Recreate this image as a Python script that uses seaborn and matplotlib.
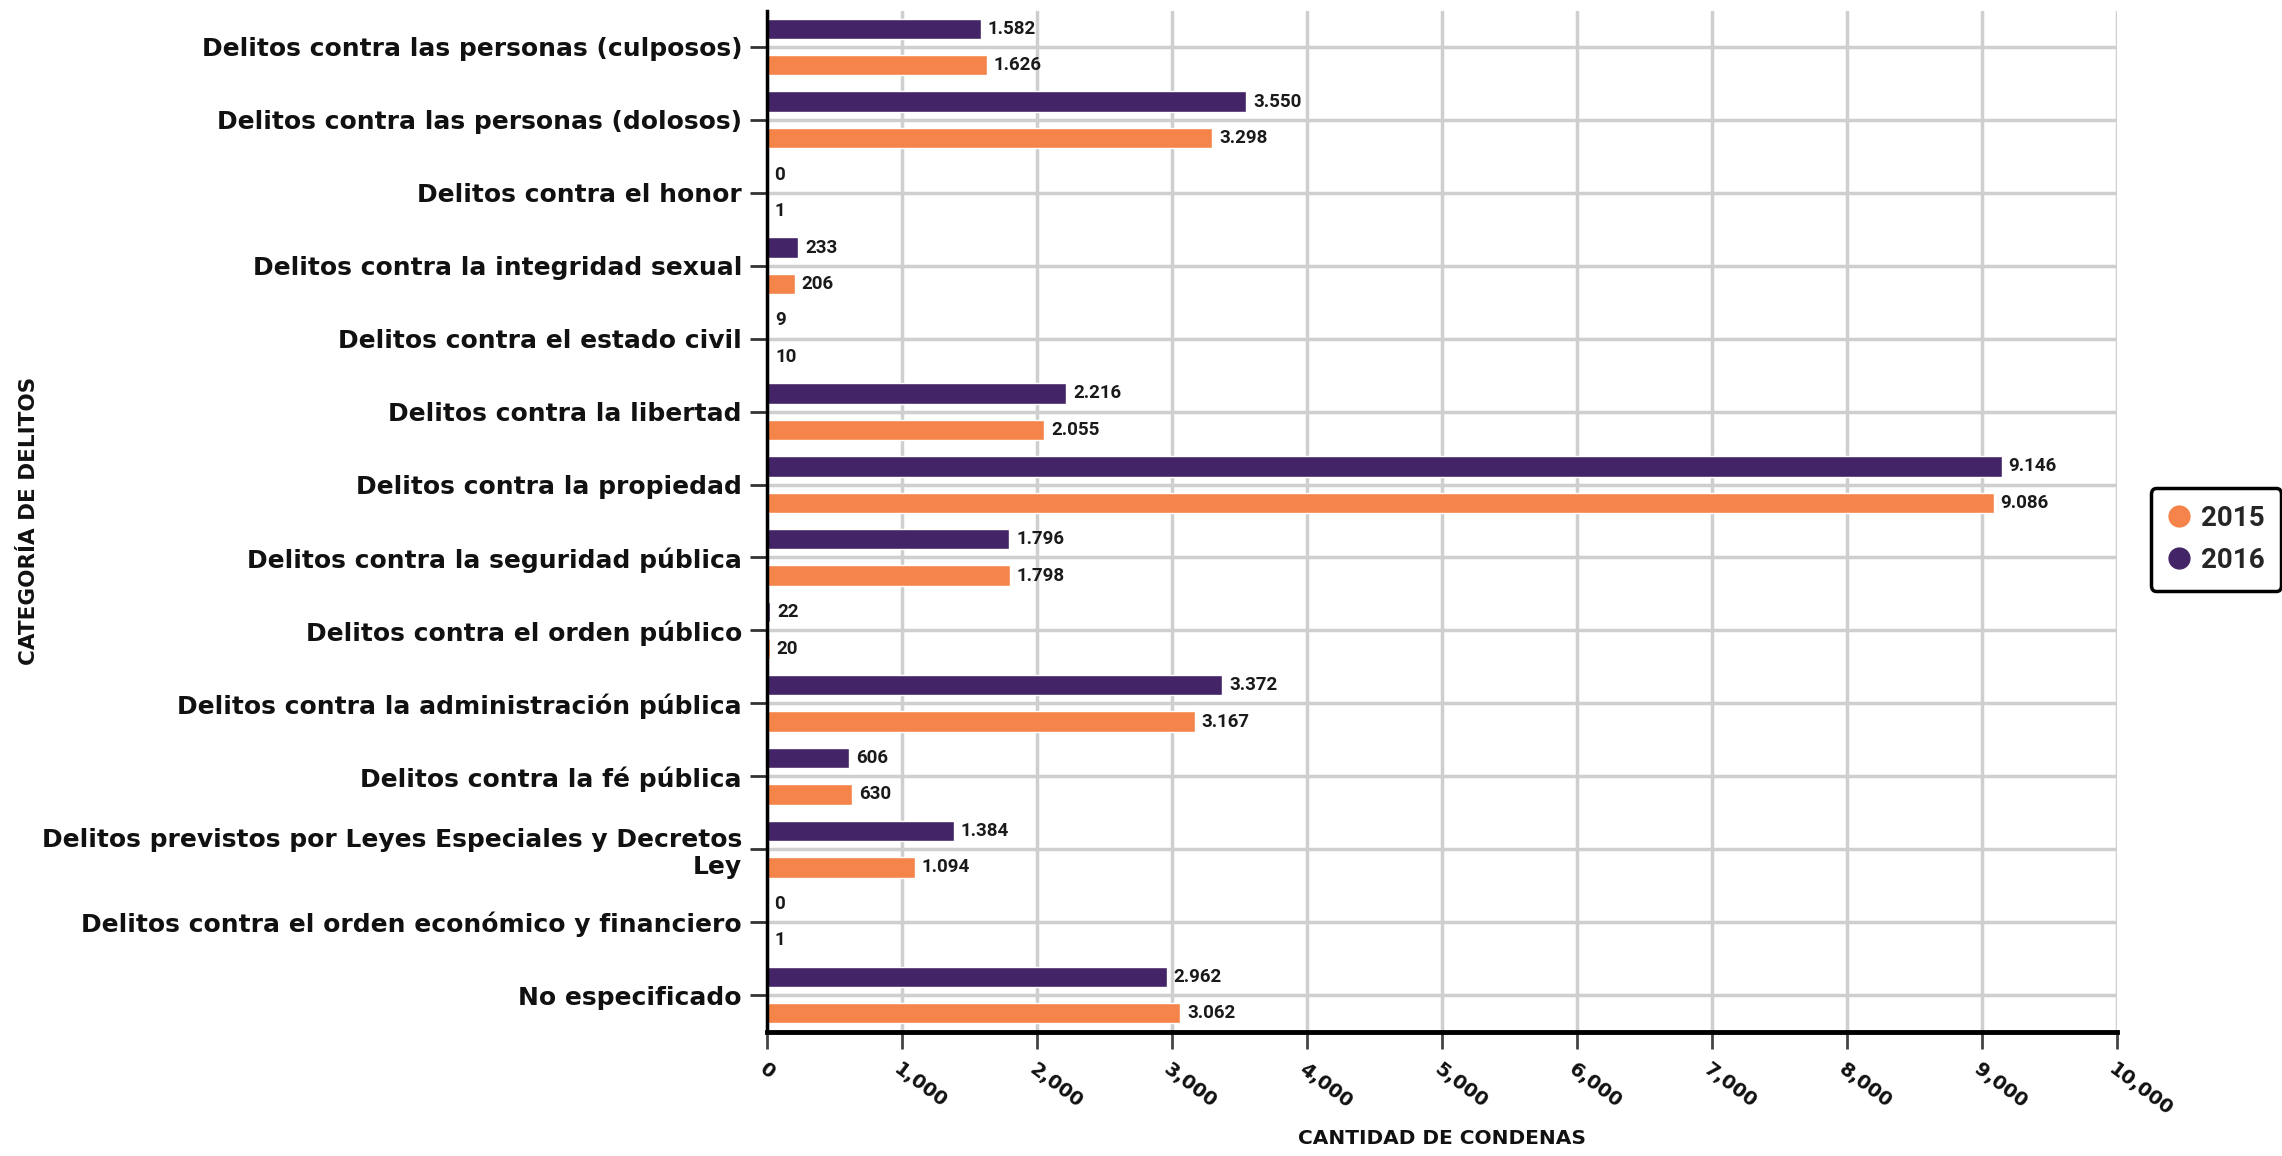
import matplotlib
matplotlib.use("Agg")
import matplotlib.pyplot as plt
import seaborn as sns
import pandas as pd
from matplotlib.lines import Line2D

# ---------------- data ----------------
categories = [
    "Delitos contra las personas (culposos)",
    "Delitos contra las personas (dolosos)",
    "Delitos contra el honor",
    "Delitos contra la integridad sexual",
    "Delitos contra el estado civil",
    "Delitos contra la libertad",
    "Delitos contra la propiedad",
    "Delitos contra la seguridad pública",
    "Delitos contra el orden público",
    "Delitos contra la administración pública",
    "Delitos contra la fé pública",
    "Delitos previstos por Leyes Especiales y Decretos\nLey",
    "Delitos contra el orden económico y financiero",
    "No especificado",
]
values_2016 = [1582, 3550, 0, 233, 9, 2216, 9146, 1796, 22, 3372, 606, 1384, 0, 2962]
values_2015 = [1626, 3298, 1, 206, 10, 2055, 9086, 1798, 20, 3167, 630, 1094, 1, 3062]
years = ["2016", "2015"]
legend_order = ["2015", "2016"]
xticks = list(range(0, 10001, 1000))
xtick_labels = [f"{v:,}" for v in xticks]

PURPLE = "#432466"
ORANGE = "#F4844A"
palette = {"2016": PURPLE, "2015": ORANGE}

n = len(categories)
df = pd.DataFrame({
    "Categoría": categories * 2,
    "Año": ["2016"] * n + ["2015"] * n,
    "Condenas": values_2016 + values_2015,
})

# ---------------- style ----------------
sns.set_theme(style="white")
plt.rcParams["font.family"] = ["Roboto", "DejaVu Sans"]
WIDE = ["DejaVu Sans"]

W, H = 2282, 1156
fig = plt.figure(figsize=(W / 100, H / 100), dpi=100)
fig.patch.set_facecolor("white")
ax_left, ax_right, ax_top, ax_bottom = 767, 2117, 10.5, 1031.5
ax = fig.add_axes([ax_left / W, 1 - ax_bottom / H,
                   (ax_right - ax_left) / W, (ax_bottom - ax_top) / H])

sns.barplot(data=df, y="Categoría", x="Condenas", hue="Año",
            order=categories, hue_order=years, palette=palette,
            orient="h", width=1.0, gap=0.44, saturation=1,
            errorbar=None, legend=False, ax=ax)

# value labels
for cont, vals in zip(ax.containers, [values_2016, values_2015]):
    ax.bar_label(cont, labels=[f"{v:,}".replace(",", ".") for v in vals],
                 padding=5, fontsize=13.5, fontweight="bold", color="#1a1a1a")

ax.set_xlim(0, 10000)
ax.set_ylim(n - 0.5, -0.5)
ax.set_xticks(xticks)
ax.set_xticklabels(xtick_labels)

ax.grid(True, color="#cfcfcf", linewidth=2.5)
ax.set_axisbelow(True)
for s in ["top", "right"]:
    ax.spines[s].set_visible(False)
ax.spines["left"].set_color("black")
ax.spines["left"].set_linewidth(2.5)
ax.spines["bottom"].set_color("black")
ax.spines["bottom"].set_linewidth(3.5)

ax.tick_params(axis="y", length=12, width=2, color="#333333", pad=6, left=True)
ax.tick_params(axis="x", length=12, width=2, color="#444444", pad=8, bottom=True)
for t in ax.get_yticklabels():
    t.set_fontfamily(WIDE)
    t.set_fontsize(18)
    t.set_fontweight("bold")
    t.set_color("#111111")
for t in ax.get_xticklabels():
    t.set_fontfamily(WIDE)
    t.set_fontsize(14)
    t.set_fontweight("bold")
    t.set_rotation(-37)
    t.set_rotation_mode("anchor")
    t.set_ha("left")
    t.set_va("top")
    t.set_color("#111111")

ax.set_xlabel("CANTIDAD DE CONDENAS", fontsize=14.5, fontweight="bold",
              color="#111111", family=WIDE)
ax.xaxis.set_label_coords(0.5, (ax_bottom - 1139) / (ax_bottom - ax_top))
ax.xaxis.label.set_va("center")
ax.set_ylabel("CATEGORÍA DE DELITOS", fontsize=15.5, fontweight="bold",
              color="#111111", family=WIDE)
ax.yaxis.set_label_coords((29 - ax_left) / (ax_right - ax_left), 0.5)
ax.yaxis.label.set_va("center")

handles = [Line2D([0], [0], marker="o", linestyle="", markersize=15,
                  markerfacecolor=palette[y], markeredgecolor=palette[y])
           for y in legend_order]
leg = ax.legend(handles, legend_order, loc="center left",
                bbox_to_anchor=(1.025, 0.482), frameon=True, fancybox=True,
                prop={"weight": "bold", "size": 20}, handlelength=0.8,
                handletextpad=0.4, borderpad=0.6, labelspacing=0.55,
                borderaxespad=0)
leg.get_frame().set_edgecolor("black")
leg.get_frame().set_linewidth(2.5)
leg.get_frame().set_alpha(1)

fig.savefig("out.png", dpi=100, facecolor="white")
